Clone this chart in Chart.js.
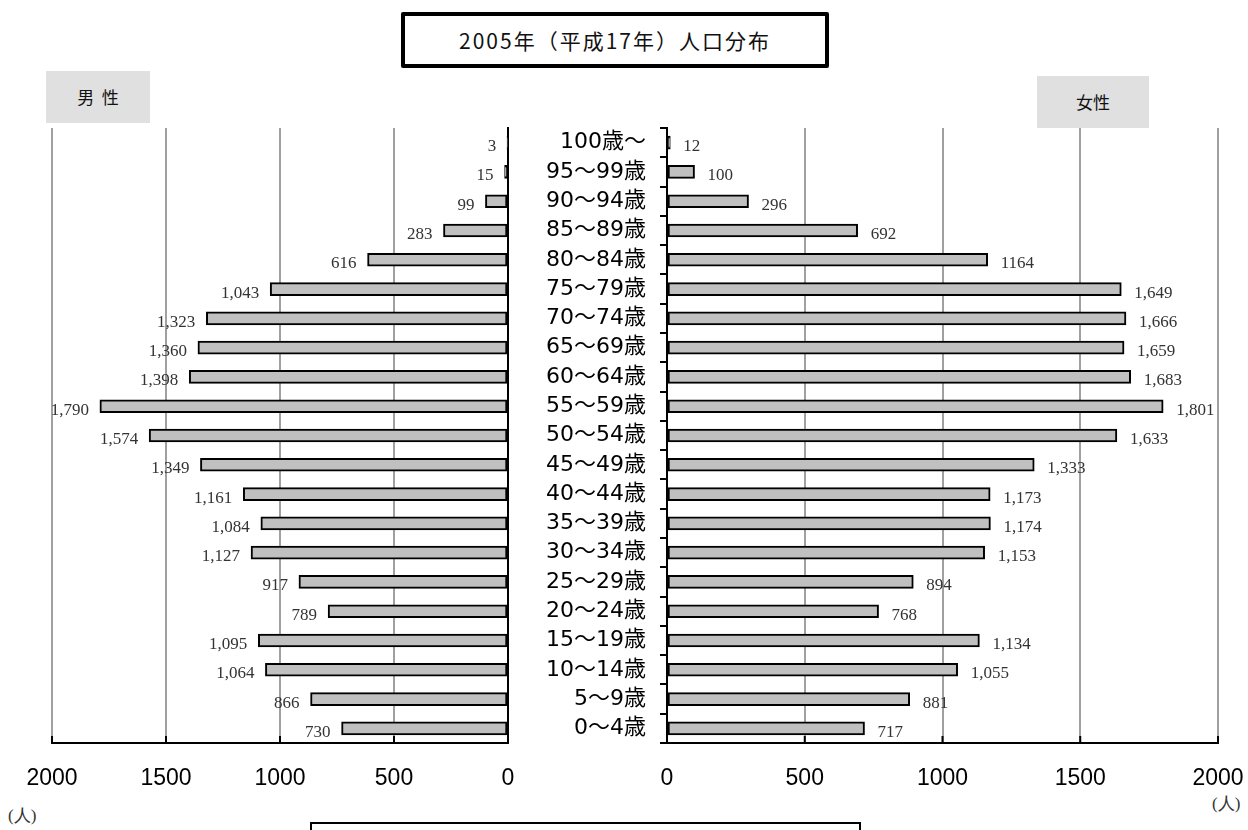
<!DOCTYPE html>
<html>
<head>
<meta charset="utf-8">
<script src="https://cdn.jsdelivr.net/npm/chart.js@4.4.1/dist/chart.umd.min.js"></script>
<style>
  body { margin: 0; background: #fff; width: 1248px; height: 830px; overflow: hidden; position: relative; font-family: "Noto Sans CJK JP", sans-serif; }
  canvas { position: absolute; top: 0; }
  #leftWrap { position: absolute; left: 0; top: 0; width: 530px; height: 830px; }
  #rightWrap { position: absolute; left: 520px; top: 0; width: 728px; height: 830px; }
  .titulo { position: absolute; left: 401px; top: 12px; width: 420px; height: 48px; border: 4px solid #000; border-radius: 2px; text-align: center; line-height: 48px; font-size: 21px; letter-spacing: 2px; color: #111; }
  .sexo { position: absolute; background: #e0e0e0; text-align: center; font-size: 17px; color: #111; }
  .unidad { position: absolute; font-family: "Liberation Serif", serif; font-size: 17px; color: #333; }
  .caja { position: absolute; left: 310px; top: 822px; width: 547px; height: 20px; border: 2px solid #000; }
</style>
</head>
<body>
<div class="titulo">2005年（平成17年）人口分布</div>
<div class="sexo" style="left:46px; top:71px; width:104px; height:52px; line-height:52px;">男&nbsp;&nbsp;性</div>
<div class="sexo" style="left:1037px; top:76px; width:112px; height:52px; line-height:52px;">女性</div>
<div class="unidad" style="left:8px; top:804px;">(人)</div>
<div class="unidad" style="left:1212px; top:792px;">(人)</div>
<div class="caja"></div>
<div id="leftWrap"><canvas id="graficoHombres"></canvas></div>
<div id="rightWrap"><canvas id="graficoMujeres"></canvas></div>
<script>
const edades = ['100歳～', '95～99歳', '90～94歳', '85～89歳', '80～84歳', '75～79歳', '70～74歳',
  '65～69歳', '60～64歳', '55～59歳', '50～54歳', '45～49歳', '40～44歳', '35～39歳', '30～34歳',
  '25～29歳', '20～24歳', '15～19歳', '10～14歳', '5～9歳', '0～4歳'];
const hombres = [3, 15, 99, 283, 616, 1043, 1323, 1360, 1398, 1790, 1574, 1349, 1161, 1084, 1127,
  917, 789, 1095, 1064, 866, 730];
const mujeres = [12, 100, 296, 692, 1164, 1649, 1666, 1659, 1683, 1801, 1633, 1333, 1173, 1174, 1153,
  894, 768, 1134, 1055, 881, 717];
const marcasX = [0, 500, 1000, 1500, 2000];
// en el original la cifra de 80～84歳 (mujeres) sale sin separador de miles
const sinSeparador = ['80～84歳'];

function formatear(valor, edad, lado) {
    if (lado === 'mujeres' && sinSeparador.includes(edad)) return String(valor);
    return valor.toLocaleString('en-US');
}

// etiquetas de valor junto a cada barra
const etiquetasValor = {
    id: 'etiquetasValor',
    afterDatasetsDraw(chart, args, opts) {
        const ctx = chart.ctx;
        const meta = chart.getDatasetMeta(0);
        ctx.save();
        ctx.font = '17px "Liberation Serif", serif';
        ctx.fillStyle = '#333';
        ctx.textBaseline = 'middle';
        meta.data.forEach((barra, i) => {
            const valor = chart.data.datasets[0].data[i];
            const texto = formatear(valor, edades[i], opts.lado);
            if (opts.lado === 'hombres') {
                ctx.textAlign = 'right';
                ctx.fillText(texto, barra.x - 11, barra.y + 4);
            } else {
                ctx.textAlign = 'left';
                ctx.fillText(texto, barra.x + 13, barra.y + 4);
            }
        });
        ctx.restore();
    }
};

// marcas cortas hacia dentro sobre el eje inferior
const marcasEje = {
    id: 'marcasEje',
    afterDraw(chart) {
        const ctx = chart.ctx;
        const escala = chart.scales.x;
        const abajo = chart.chartArea.bottom;
        ctx.save();
        ctx.strokeStyle = '#000';
        ctx.lineWidth = 2;
        escala.ticks.forEach(t => {
            const x = escala.getPixelForValue(t.value);
            ctx.beginPath();
            ctx.moveTo(x, abajo);
            ctx.lineTo(x, abajo - 7);
            ctx.stroke();
        });
        ctx.restore();
    }
};

function opcionesEjeX(invertido) {
    return {
        type: 'linear',
        min: marcasX[0],
        max: marcasX[marcasX.length - 1],
        reverse: invertido,
        afterBuildTicks: escala => { escala.ticks = marcasX.map(v => ({ value: v })); },
        ticks: {
            color: '#000',
            padding: 22,
            font: { family: '"Liberation Sans", Arial, sans-serif', size: 23 },
            callback: v => String(v)
        },
        grid: { color: '#a0a0a0', lineWidth: 2, drawTicks: false },
        border: { color: '#000', width: 2 },
        afterFit: escala => {
            escala.height = 62;
            escala.paddingLeft = 0;
            escala.paddingRight = 0;
        }
    };
}

function crearGraficoHombres() {
    const ctx = document.getElementById('graficoHombres').getContext('2d');
    new Chart(ctx, {
        type: 'bar',
        data: {
            labels: edades,
            datasets: [{
                data: hombres,
                backgroundColor: '#c0c0c0',
                borderColor: '#000',
                borderWidth: 2,
                borderSkipped: false,
                barThickness: 13
            }]
        },
        options: {
            indexAxis: 'y',
            responsive: true,
            maintainAspectRatio: false,
            animation: false,
            layout: { padding: { top: 128, bottom: 25, left: 52, right: 22 } },
            plugins: {
                legend: { display: false },
                tooltip: { enabled: false },
                etiquetasValor: { lado: 'hombres' }
            },
            scales: {
                x: opcionesEjeX(true),
                y: {
                    position: 'right',
                    ticks: { display: false },
                    grid: { display: false },
                    border: { color: '#000', width: 2 },
                    afterFit: escala => { escala.width = 0; }
                }
            }
        },
        plugins: [etiquetasValor, marcasEje]
    });
}

function crearGraficoMujeres() {
    const ctx = document.getElementById('graficoMujeres').getContext('2d');
    new Chart(ctx, {
        type: 'bar',
        data: {
            labels: edades,
            datasets: [{
                data: mujeres,
                backgroundColor: '#c0c0c0',
                borderColor: '#000',
                borderWidth: 2,
                borderSkipped: false,
                barThickness: 13
            }]
        },
        options: {
            indexAxis: 'y',
            responsive: true,
            maintainAspectRatio: false,
            animation: false,
            layout: { padding: { top: 128, bottom: 25, left: 0, right: 30 } },
            plugins: {
                legend: { display: false },
                tooltip: { enabled: false },
                etiquetasValor: { lado: 'mujeres' }
            },
            scales: {
                x: opcionesEjeX(false),
                y: {
                    position: 'left',
                    ticks: {
                        color: '#000',
                        padding: 14,
                        autoSkip: false,
                        font: { family: '"DejaVu Sans", "Noto Sans CJK JP", sans-serif', size: 22 }
                    },
                    grid: { drawOnChartArea: false, drawTicks: true, tickLength: 7, color: '#000', lineWidth: 2 },
                    border: { color: '#000', width: 2 },
                    afterFit: escala => { escala.width = 147; }
                }
            }
        },
        plugins: [etiquetasValor, marcasEje]
    });
}

document.addEventListener('DOMContentLoaded', function() {
    crearGraficoHombres();
    crearGraficoMujeres();
});
</script>
</body>
</html>
